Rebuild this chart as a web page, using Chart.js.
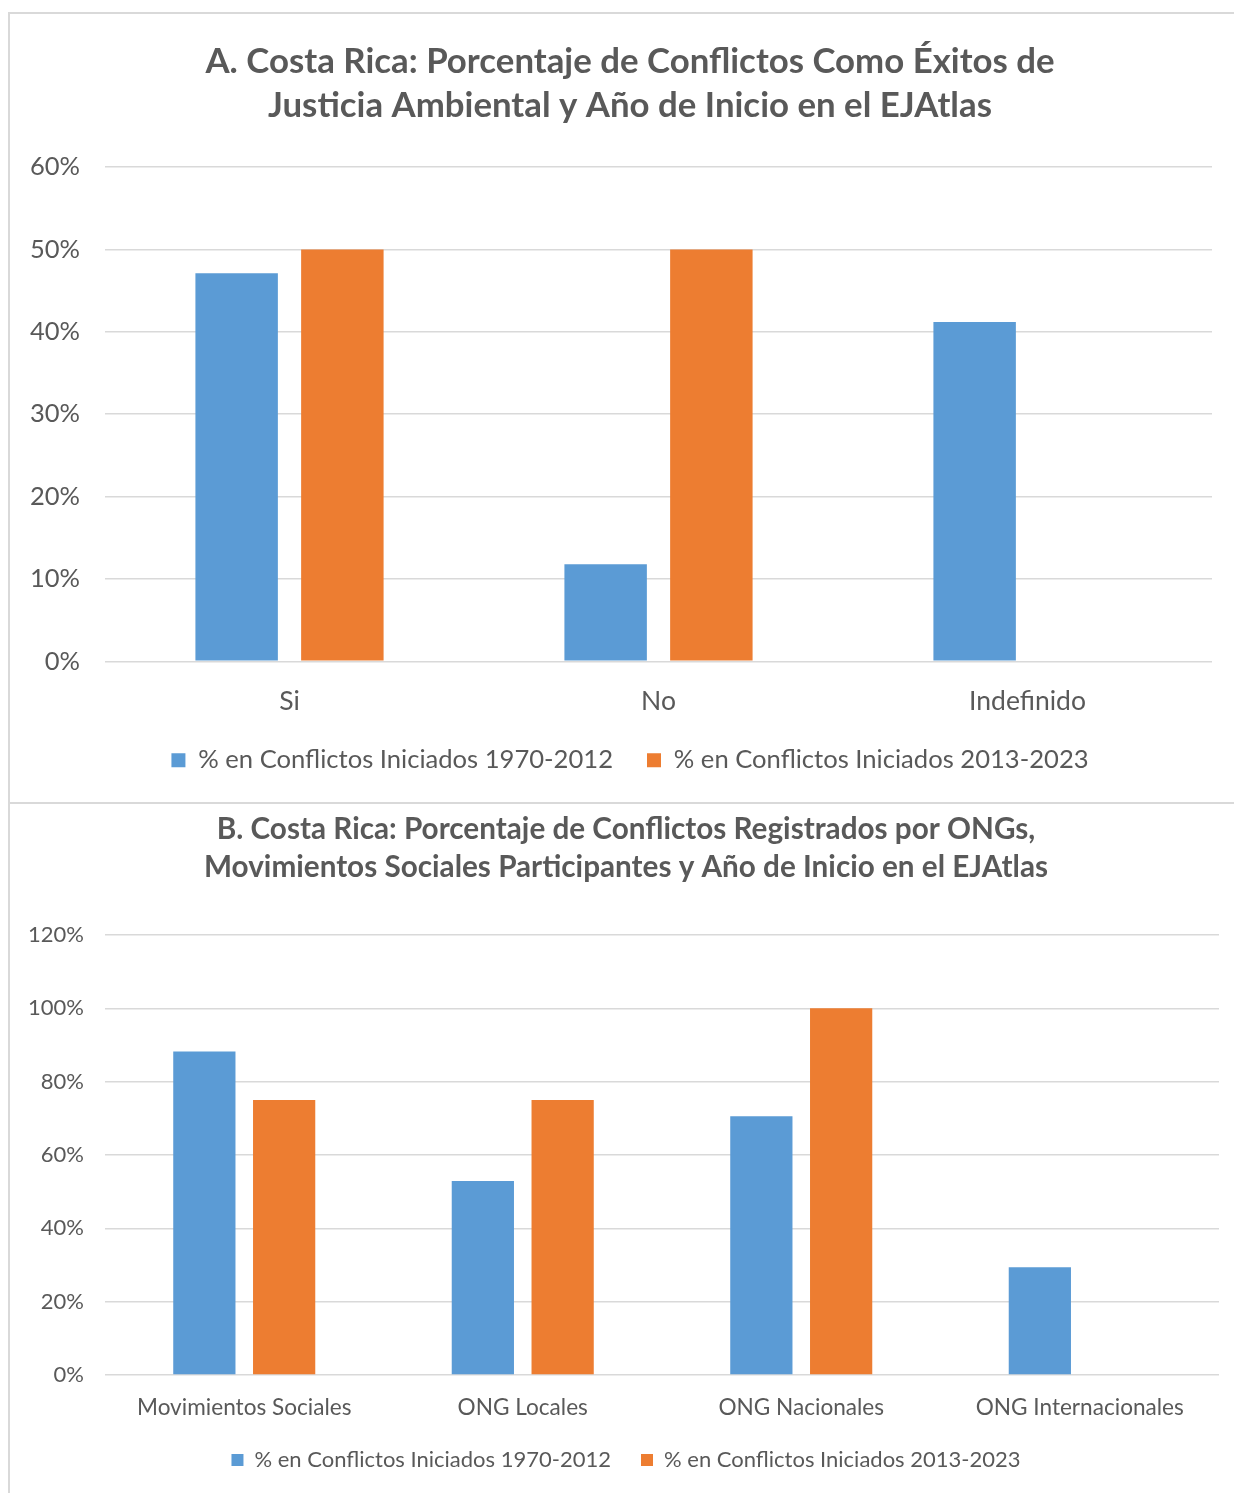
<!DOCTYPE html>
<html>
<head>
<meta charset="utf-8">
<script src="https://cdn.jsdelivr.net/npm/chart.js@4.4.0/dist/chart.umd.min.js"></script>
<style>
  body { margin: 0; background: #fff; width: 1234px; height: 1493px; overflow: hidden; position: relative; }
  #marco { position: absolute; left: 8px; top: 12px; width: 1226px; height: 1481px; border-left: 2px solid #d9d9d9; border-top: 2px solid #d9d9d9; box-sizing: border-box; }
  #separador { position: absolute; left: 8px; top: 802px; width: 1226px; border-top: 2px solid #d9d9d9; }
  .caja { position: absolute; left: 10px; }
  #cajaA { top: 14px; width: 1240px; height: 788px; }
  #cajaB { top: 804px; width: 1232px; height: 689px; }
</style>
</head>
<body>
<div id="marco"></div>
<div id="separador"></div>
<div class="caja" id="cajaA"><canvas id="graficoA"></canvas></div>
<div class="caja" id="cajaB"><canvas id="graficoB"></canvas></div>
<script>
// datos
const series = ['% en Conflictos Iniciados 1970-2012', '% en Conflictos Iniciados 2013-2023'];

const categoriasA = ['Si', 'No', 'Indefinido'];
const valoresA1970 = [47.1, 11.8, 41.2];
const valoresA2013 = [50, 50, 0];
const ticksA = [0, 10, 20, 30, 40, 50, 60];

const categoriasB = ['Movimientos Sociales', 'ONG Locales', 'ONG Nacionales', 'ONG Internacionales'];
const valoresB1970 = [88.2, 52.9, 70.6, 29.4];
const valoresB2013 = [75, 75, 100, 0];
const ticksB = [0, 20, 40, 60, 80, 100, 120];

const tituloA = ['A. Costa Rica: Porcentaje de Conflictos Como Éxitos de', 'Justicia Ambiental y Año de Inicio en el EJAtlas'];
const tituloB = ['B. Costa Rica: Porcentaje de Conflictos Registrados por ONGs,', 'Movimientos Sociales Participantes y Año de Inicio en el EJAtlas'];

const AZUL = '#5B9BD5';
const NARANJA = '#ED7D31';
const GRIS = '#595959';
const FUENTE = 'Lato, "Open Sans", sans-serif';

// tamaño de letra para que un texto ocupe un ancho dado
const medidor = document.createElement('canvas').getContext('2d');
function ajustar(texto, ancho, peso) {
  medidor.font = (peso || 'normal') + ' 100px ' + FUENTE;
  return Math.round(100 * ancho / medidor.measureText(texto).width * 10) / 10;
}

function crearGrafico(id, cfg) {
  return new Chart(document.getElementById(id), {
    type: 'bar',
    data: {
      labels: cfg.categorias,
      datasets: [
        { label: series[0], data: cfg.v1, backgroundColor: AZUL, categoryPercentage: 0.573, barPercentage: 0.78 },
        { label: series[1], data: cfg.v2, backgroundColor: NARANJA, categoryPercentage: 0.573, barPercentage: 0.78 }
      ]
    },
    options: {
      responsive: true,
      maintainAspectRatio: false,
      animation: false,
      layout: { padding: { top: 0, left: 0, right: 0, bottom: cfg.abajo } },
      plugins: {
        tooltip: { enabled: false },
        title: {
          display: true,
          text: cfg.titulo,
          color: GRIS,
          font: { family: FUENTE, size: cfg.tamTitulo, weight: 'bold', lineHeight: cfg.altoLinea / cfg.tamTitulo },
          padding: { top: cfg.tituloArriba, bottom: cfg.tituloAbajo }
        },
        legend: {
          position: 'bottom',
          labels: {
            color: GRIS,
            font: { family: FUENTE, size: cfg.tamLeyenda },
            boxWidth: cfg.cuadro,
            boxHeight: cfg.cuadro,
            padding: cfg.sepLeyenda
          }
        }
      },
      scales: {
        x: {
          grid: { display: false, drawTicks: false },
          border: { display: false },
          ticks: { color: GRIS, font: { family: FUENTE, size: cfg.tamCat }, padding: cfg.padCat, maxRotation: 0 },
          afterFit: s => { s.height = cfg.altoX; }
        },
        y: {
          min: cfg.ticks[0],
          max: cfg.ticks[cfg.ticks.length - 1],
          grid: { color: '#D9D9D9', lineWidth: 1.6, drawTicks: false },
          border: { display: false },
          ticks: {
            stepSize: cfg.ticks[1] - cfg.ticks[0],
            color: GRIS,
            font: { family: FUENTE, size: cfg.tamY },
            padding: cfg.padY,
            callback: v => v + '%'
          },
          afterFit: s => { s.width = 95; }
        },
        // eje vacio a la derecha: deja el hueco sin descentrar titulo y leyenda
        margen: {
          position: 'right',
          grid: { display: false, drawTicks: false },
          border: { display: false },
          ticks: { display: false },
          afterFit: s => { s.width = cfg.derecha; }
        }
      }
    }
  });
}

const leyA = ajustar(series[0], 415);
const sepA = 34;
crearGrafico('graficoA', {
  categorias: categoriasA, v1: valoresA1970, v2: valoresA2013, ticks: ticksA,
  titulo: tituloA, tamTitulo: ajustar(tituloA[0], 850, 'bold'), altoLinea: 44,
  tituloArriba: 26, tituloAbajo: 39,
  derecha: 1240 - 1202, abajo: Math.round(788 - (746 + leyA / 2 + 10)),
  tamLeyenda: leyA, cuadro: 14, sepLeyenda: sepA,
  tamCat: ajustar('Indefinido', 117), padCat: 24,
  altoX: Math.round(746 - sepA - leyA / 2 - 647),
  tamY: ajustar('60%', 50), padY: 25
});

const leyB = ajustar(series[0], 356);
const sepB = 30;
crearGrafico('graficoB', {
  categorias: categoriasB, v1: valoresB1970, v2: valoresB2013, ticks: ticksB,
  titulo: tituloB, tamTitulo: ajustar(tituloB[0], 818, 'bold'), altoLinea: 38,
  tituloArriba: 6, tituloAbajo: 49,
  derecha: 1232 - 1209, abajo: Math.round(689 - (656 + leyB / 2 + 10)),
  tamLeyenda: leyB, cuadro: 12, sepLeyenda: sepB,
  tamCat: ajustar('Movimientos Sociales', 215), padCat: 19,
  altoX: Math.round(656 - sepB - leyB / 2 - 571),
  tamY: ajustar('120%', 56), padY: 21
});
</script>
</body>
</html>
